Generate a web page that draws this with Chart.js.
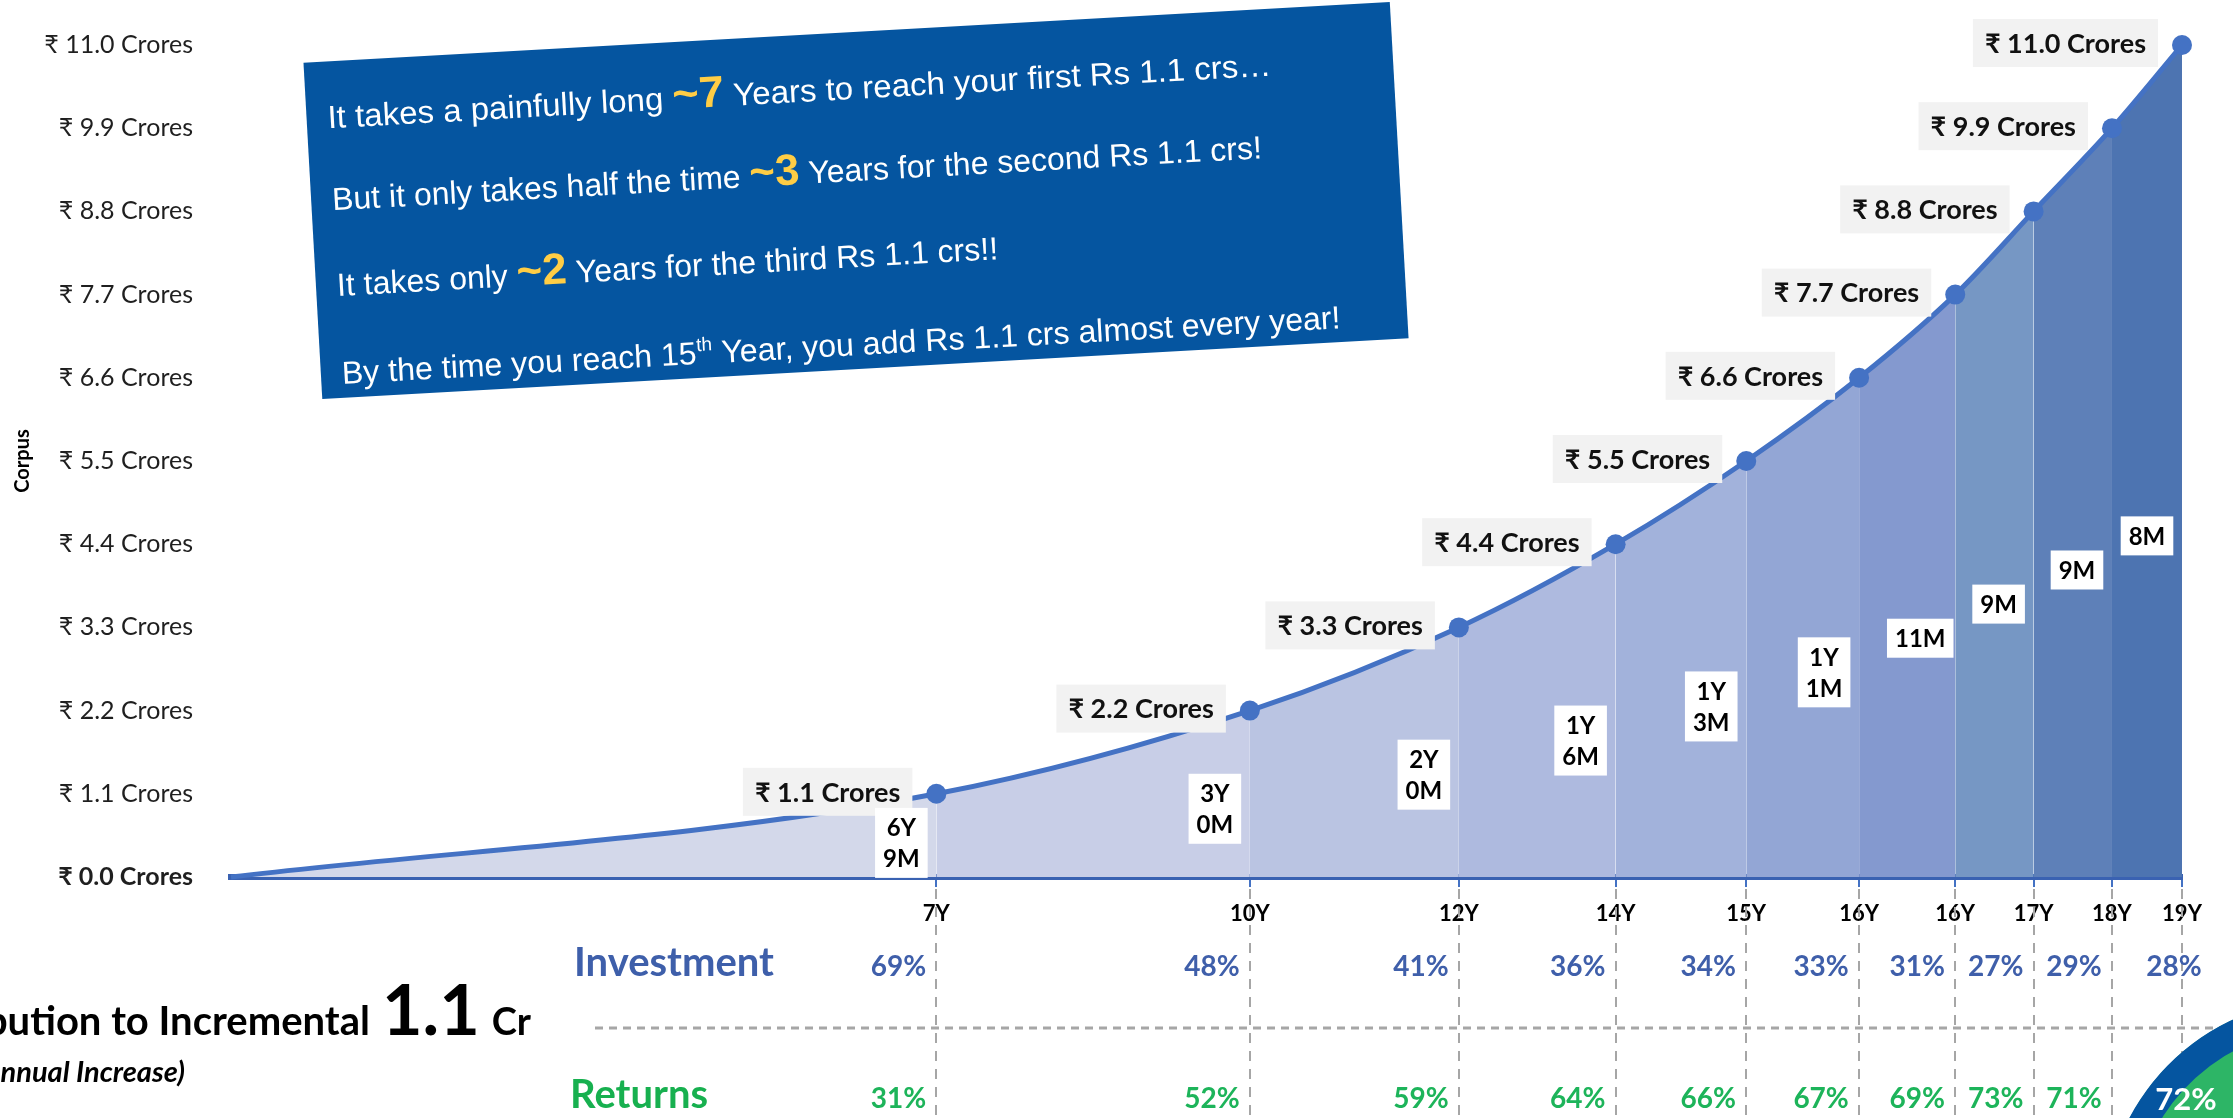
<!DOCTYPE html>
<html>
<head>
<meta charset="utf-8">
<script src="https://cdn.jsdelivr.net/npm/chart.js@4.4.0/dist/chart.umd.min.js"></script>
<style>
    html, body { margin: 0; padding: 0; background: #fff; }
    #wrap { position: relative; width: 2233px; height: 1118px; overflow: hidden; }
    #main { position: absolute; left: 0; top: 0; }
    #pie { position: absolute; left: 2104px; top: 999px; }
</style>
</head>
<body>
<div id="wrap">
    <canvas id="main" width="2233" height="1118"></canvas>
    <canvas id="pie" width="444" height="444"></canvas>
</div>
<script>
// time (years) at which each 1.1 Cr milestone is reached
const years = [0, 6.75, 9.75, 11.75, 13.25, 14.5, 15.58, 16.5, 17.25, 18.0, 18.67];
const corpus = [0, 1.1, 2.2, 3.3, 4.4, 5.5, 6.6, 7.7, 8.8, 9.9, 11.0];
const yearLabels = ['7Y', '10Y', '12Y', '14Y', '15Y', '16Y', '16Y', '17Y', '18Y', '19Y'];
const durationLabels = [['6Y', '9M'], ['3Y', '0M'], ['2Y', '0M'], ['1Y', '6M'], ['1Y', '3M'], ['1Y', '1M'], ['11M'], ['9M'], ['9M'], ['8M']];
const investmentPct = [69, 48, 41, 36, 34, 33, 31, 27, 29, 28];
const returnsPct = [31, 52, 59, 64, 66, 67, 69, 73, 71, 72];
const yTicks = [0, 1.1, 2.2, 3.3, 4.4, 5.5, 6.6, 7.7, 8.8, 9.9, 11.0];
const segColors = ['#D3D8EA', '#C8CEE7', '#BAC4E2', '#AEBADF', '#A2B2DB', '#93A6D5', '#8499CF', '#7697C4', '#5E80B8', '#4D74B1'];

const calloutLines = [
    [{t: 'It takes a painfully long '}, {t: '~7', hl: true}, {t: ' Years to reach your first Rs 1.1 crs…'}],
    [{t: 'But it only takes half the time '}, {t: '~3', hl: true}, {t: ' Years for the second Rs 1.1 crs!'}],
    [{t: 'It takes only '}, {t: '~2', hl: true}, {t: ' Years for the third Rs 1.1 crs!!'}],
    [{t: 'By the time you reach 15'}, {t: 'th', sup: true}, {t: ' Year, you add Rs 1.1 crs almost every year!'}]
];
const calloutWidths = [945, 931, 662, 1000];
const calloutY = [-112, -30, 56, 144];

const FONT = "Lato, 'Noto Sans', sans-serif";
const NARROW = "'Liberation Sans Narrow', 'Liberation Sans', Arial, sans-serif";

function drawRich(ctx, runs, x0, base, targetW) {
    const fonts = runs.map(r => r.hl ? 'bold 44px ' + NARROW : (r.sup ? '19px ' + NARROW : '32px ' + NARROW));
    const widths = runs.map((r, i) => { ctx.font = fonts[i]; return ctx.measureText(r.t).width; });
    const total = widths.reduce((a, b) => a + b, 0);
    ctx.save();
    ctx.translate(x0, base);
    ctx.scale(targetW / total, 1);
    let cx = 0;
    runs.forEach((r, i) => {
        ctx.font = fonts[i];
        ctx.fillStyle = r.hl ? '#FFCD45' : '#FFFFFF';
        ctx.fillText(r.t, cx, r.sup ? -13 : 0);
        cx += widths[i];
    });
    ctx.restore();
}

const guides = {
    id: 'guides',
    beforeDatasetsDraw(chart) {
        const {ctx, scales: {x, y}} = chart;
        const axisY = y.getPixelForValue(0);
        ctx.save();
        ctx.strokeStyle = '#A6A6A6';
        ctx.lineWidth = 2;
        ctx.setLineDash([10, 8]);
        years.slice(1).forEach(t => {
            const px = Math.round(x.getPixelForValue(t));
            ctx.beginPath();
            ctx.moveTo(px, axisY + 12);
            ctx.lineTo(px, 1118);
            ctx.stroke();
        });
        ctx.lineWidth = 3;
        ctx.setLineDash([8, 6]);
        ctx.beginPath();
        ctx.moveTo(595, axisY + 151);
        ctx.lineTo(2233, axisY + 151);
        ctx.stroke();
        ctx.restore();
    }
};

const overlay = {
    id: 'overlay',
    afterDraw(chart) {
        const {ctx, scales: {x, y}} = chart;
        const axisY = y.getPixelForValue(0);
        ctx.save();
        ctx.textBaseline = 'middle';

        // corpus labels left of each point
        ctx.font = 'bold 27px ' + FONT;
        for (let i = 1; i < corpus.length; i++) {
            const px = x.getPixelForValue(years[i]);
            const py = y.getPixelForValue(corpus[i]) - 2;
            const txt = '₹ ' + corpus[i].toFixed(1) + ' Crores';
            const w = ctx.measureText(txt).width + 24;
            ctx.fillStyle = '#F2F2F2';
            ctx.fillRect(px - 24 - w, py - 24, w, 48);
            ctx.fillStyle = '#111';
            ctx.textAlign = 'right';
            ctx.fillText(txt, px - 36, py + 1);
        }

        // time taken for each 1.1 Cr
        ctx.font = 'bold 24px ' + FONT;
        ctx.textAlign = 'center';
        durationLabels.forEach((lines, i) => {
            const cx = x.getPixelForValue(years[i + 1]) - 35;
            const cy = y.getPixelForValue(corpus[i + 1] * 0.41);
            const w = Math.max(...lines.map(l => ctx.measureText(l).width)) + 16;
            const h = lines.length * 31 + 8;
            ctx.fillStyle = '#FFFFFF';
            ctx.fillRect(cx - w / 2, cy - h / 2, w, h);
            ctx.fillStyle = '#000';
            lines.forEach((l, k) => ctx.fillText(l, cx, cy - h / 2 + 4 + 15.5 + k * 31 + 1));
        });

        // contribution rows
        ctx.font = 'bold 28px ' + FONT;
        investmentPct.forEach((v, i) => {
            const off = i === investmentPct.length - 1 ? -8 : -38;
            const cx = x.getPixelForValue(years[i + 1]) + off;
            ctx.fillStyle = '#3F5FAA';
            ctx.fillText(v + '%', cx, axisY + 90);
            if (i < returnsPct.length - 1) {
                ctx.fillStyle = '#1DB45A';
                ctx.fillText(returnsPct[i] + '%', cx, axisY + 222);
            }
        });
        ctx.textAlign = 'left';
        ctx.font = 'bold 40px ' + FONT;
        ctx.fillStyle = '#3E5FAA';
        ctx.fillText('Investment', 574, axisY + 86);
        ctx.fillStyle = '#17B04F';
        ctx.fillText('Returns', 570, axisY + 218);

        // left caption (partly off the page)
        ctx.textBaseline = 'alphabetic';
        ctx.textAlign = 'right';
        ctx.fillStyle = '#000';
        ctx.font = 'bold 38px ' + FONT;
        ctx.fillText('Cr', 531, 1035);
        const crW = ctx.measureText('Cr').width;
        ctx.font = 'bold 70px ' + FONT;
        ctx.fillText('1.1', 531 - crW - 12, 1035);
        const oneW = ctx.measureText('1.1').width;
        ctx.font = 'bold 40px ' + FONT;
        ctx.fillText('Contribution to Incremental', 531 - crW - oneW - 24, 1035);
        ctx.font = 'italic bold 29px ' + FONT;
        ctx.fillText('(Annual Increase)', 185, 1082);

        // callout box
        ctx.save();
        ctx.translate(856, 200);
        ctx.rotate(-3.2 * Math.PI / 180);
        ctx.fillStyle = '#0555A0';
        ctx.fillRect(-544, -168, 1088, 337);
        ctx.textAlign = 'left';
        calloutLines.forEach((runs, i) => drawRich(ctx, runs, -523, calloutY[i] + 11, calloutWidths[i]));
        ctx.restore();

        ctx.restore();
    }
};

new Chart(document.getElementById('main'), {
    type: 'line',
    data: {
        datasets: [{
            data: years.map((t, i) => ({x: t, y: corpus[i]})),
            borderColor: '#4472C4',
            borderWidth: 5,
            pointRadius: ctx => ctx.dataIndex === 0 ? 0 : 10,
            pointBackgroundColor: '#4472C4',
            pointBorderWidth: 0,
            fill: 'origin',
            backgroundColor: segColors[0],
            cubicInterpolationMode: 'monotone',
            segment: {backgroundColor: ctx => segColors[ctx.p0DataIndex]},
            clip: false
        }]
    },
    options: {
        responsive: false,
        animation: false,
        devicePixelRatio: 1,
        layout: {padding: {top: 36, right: 51, left: 0, bottom: 0}},
        plugins: {legend: {display: false}, tooltip: {enabled: false}},
        scales: {
            x: {
                type: 'linear',
                min: 0,
                max: years[years.length - 1],
                z: 1,
                afterBuildTicks: s => { s.ticks = years.slice(1).map(v => ({value: v})); },
                afterFit: s => { s.height = 241; },
                grid: {drawOnChartArea: false, drawTicks: true, tickLength: 10, color: '#4472C4', tickColor: '#4472C4', lineWidth: 2},
                border: {color: '#3A62B2', width: 6},
                ticks: {
                    autoSkip: false, maxRotation: 0, padding: 14, color: '#000',
                    font: {family: FONT, weight: 'bold', size: 22},
                    callback: (v, i) => yearLabels[i]
                }
            },
            y: {
                min: 0,
                max: 11,
                afterBuildTicks: s => { s.ticks = yTicks.map(v => ({value: v})); },
                afterFit: s => { s.width = 231; },
                grid: {display: false},
                border: {display: false},
                ticks: {
                    padding: 30, color: '#1F1F1F',
                    font: c => ({family: FONT, size: 25, weight: c.index === 0 ? 'bold' : 'normal'}),
                    callback: v => '₹ ' + v.toFixed(1) + ' Crores'
                },
                title: {display: true, text: 'Corpus', color: '#000', padding: {top: 11, bottom: 4}, font: {family: FONT, weight: 'bold', size: 20}}
            }
        }
    },
    plugins: [guides, overlay]
});

// final year split shown as a pie peeking in at the corner
const last = investmentPct.length - 1;
new Chart(document.getElementById('pie'), {
    type: 'pie',
    data: {
        labels: ['Returns', 'Investment'],
        datasets: [{
            data: [returnsPct[last], investmentPct[last]],
            backgroundColor: ['#2DB566', '#0555A0'],
            borderColor: '#0555A0',
            borderWidth: 28,
            borderAlign: 'inner'
        }]
    },
    options: {
        responsive: false,
        animation: false,
        devicePixelRatio: 1,
        rotation: 188,
        layout: {padding: 0},
        plugins: {legend: {display: false}, tooltip: {enabled: false}}
    },
    plugins: [{
        id: 'pct',
        afterDraw(c) {
            const arc = c.getDatasetMeta(0).data[0];
            const a = 220.8 * Math.PI / 180;
            const ctx = c.ctx;
            ctx.save();
            ctx.font = 'bold 31px ' + FONT;
            ctx.fillStyle = '#fff';
            ctx.textAlign = 'center';
            ctx.textBaseline = 'middle';
            ctx.fillText(returnsPct[last] + '%', arc.x + 185 * Math.cos(a), arc.y + 185 * Math.sin(a));
            ctx.restore();
        }
    }]
});
</script>
</body>
</html>
